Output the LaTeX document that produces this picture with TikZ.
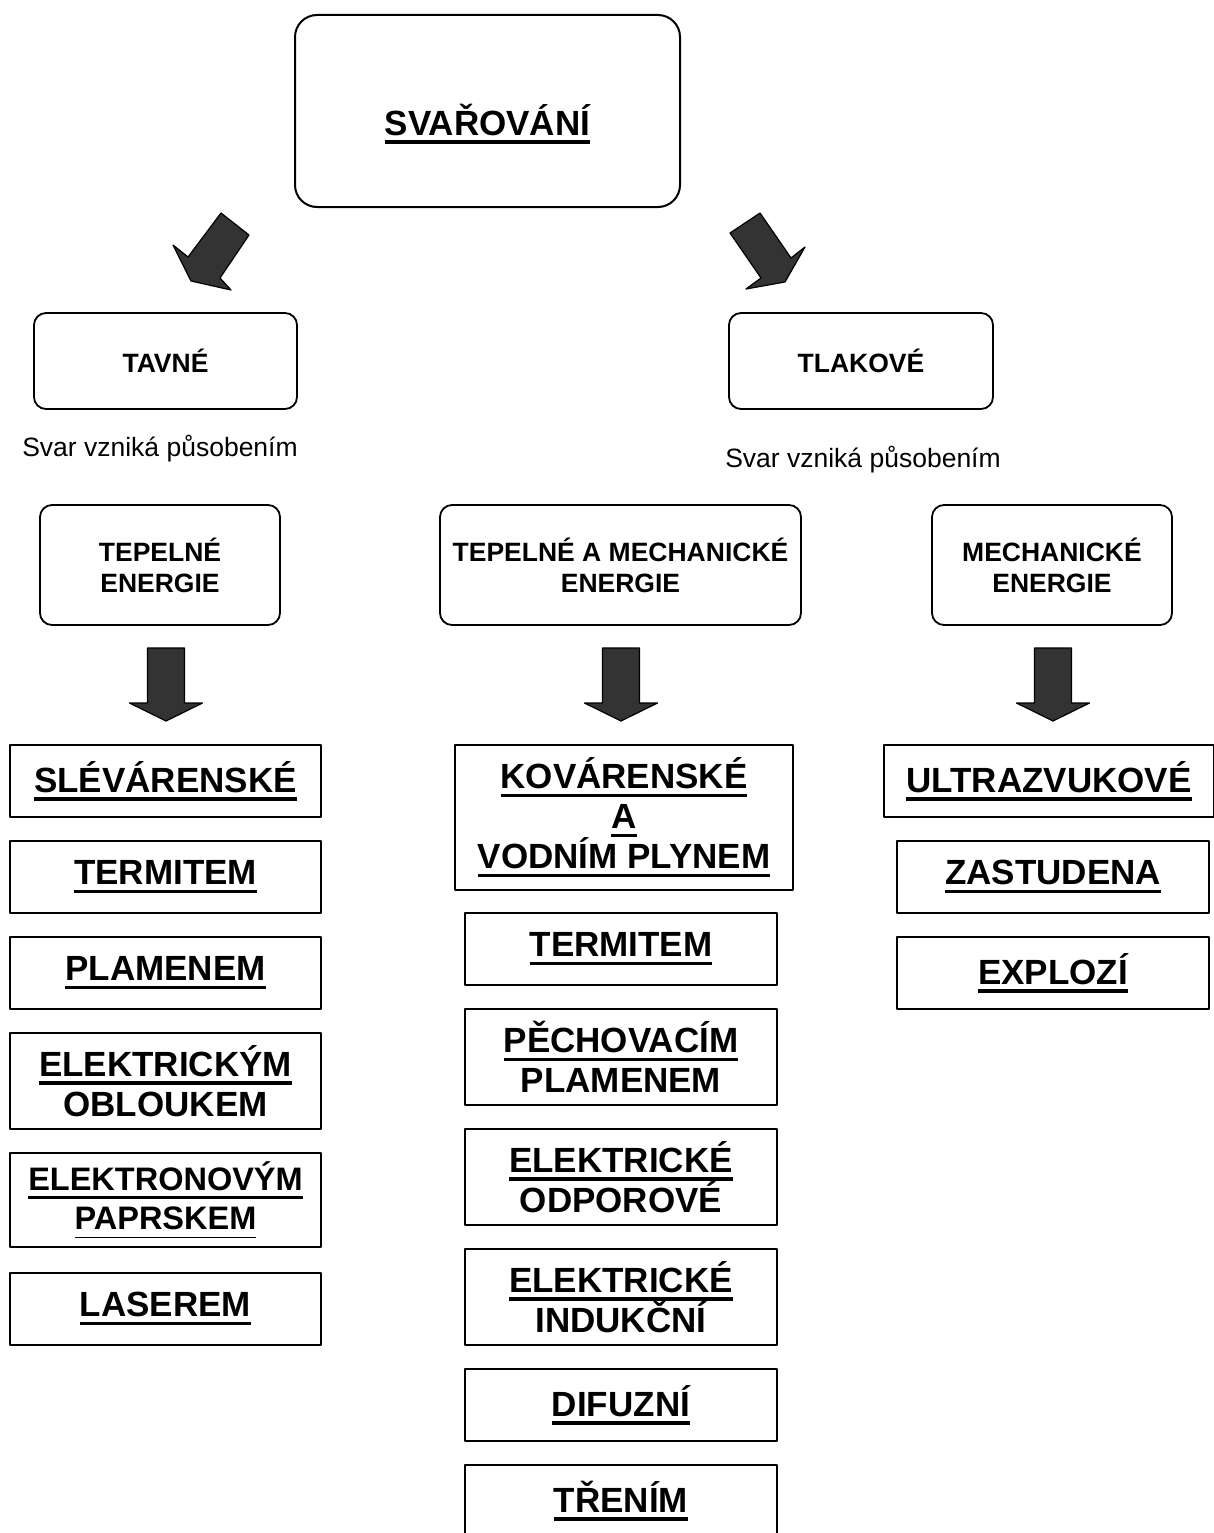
\documentclass[tikz,border=0pt]{standalone}
\usepackage{fontspec}
\setmainfont{Liberation Sans}
\newsavebox{\ulbox}
\newcommand{\uln}[2][3.5pt]{\sbox{\ulbox}{#2}\rlap{\rule[-8.5pt]{\wd\ulbox}{#1}}\usebox{\ulbox}}
\tikzset{
	rbox/.style={draw, line width=1.8pt, rounded corners=12pt, align=center, inner sep=0pt, font=\bfseries\fontsize{26.5}{31}\selectfont},
	sbox/.style={draw, line width=1.8pt, align=center, inner sep=0pt, font=\bfseries\fontsize{35}{40}\selectfont},
	bigarrow/.style={draw, line width=1.2pt, fill=black!80, line join=round},
	note/.style={font=\fontsize{26.5}{30}\selectfont}
}
\begin{document}
\begin{tikzpicture}[x=1pt, y=-1pt, line join=round]
		\useasboundingbox (0,0) rectangle (1213,1533);
		% hlavni pojem
		\node[rbox, rounded corners=22pt, line width=2pt, minimum width=385pt, minimum height=192pt] (svar) at (487.5,111) {};
		\node[font=\bfseries\fontsize{35}{40}\selectfont] (svarT) at (487.5,124) {\uln{SVAŘOVÁNÍ}};
		\draw[bigarrow] (221,213)--(249,235)--(220,278)--(231,290)--(191,281)--(173,245)--(188,257)--cycle;
		\draw[bigarrow] (730,233)--(760,213)--(791,258)--(805,247)--(785,282)--(746,289)--(761,278)--cycle;
		% druhy
		\node[rbox, minimum width=263pt, minimum height=96pt] (tavne) at (165.5,361) {TAVNÉ};
		\node[rbox, minimum width=264pt, minimum height=96pt] (tlak) at (861,361) {TLAKOVÉ};
		\node[note] (pus1) at (160,449) {Svar vzniká působením};
		\node[note] (pus2) at (863,460) {Svar vzniká působením};
		\node[rbox, minimum width=240pt, minimum height=120pt] (tep) at (160,565) {TEPELNÉ\\ENERGIE};
		\node[rbox, minimum width=361pt, minimum height=120pt] (tepmech) at (620.5,565) {TEPELNÉ A MECHANICKÉ\\ENERGIE};
		\node[rbox, minimum width=240pt, minimum height=120pt] (mech) at (1052,565) {MECHANICKÉ\\ENERGIE};
		\foreach \cx in {166,621,1053}
			\draw[bigarrow] (\cx-18.5,648)--(\cx+18.5,648)--(\cx+18.5,703)--(\cx+36.5,703)--(\cx,721)--(\cx-36.5,703)--(\cx-18.5,703)--cycle;
		% tepelne
		\node[sbox, minimum width=311pt, minimum height=72pt] (slev) at (165.5,781) {\uln{SLÉVÁRENSKÉ}};
		\node[sbox, minimum width=311pt, minimum height=72pt] (term1) at (165.5,877) {\uln{TERMITEM}};
		\node[sbox, minimum width=311pt, minimum height=72pt] (plam) at (165.5,973) {\uln{PLAMENEM}};
		\node[sbox, minimum width=311pt, minimum height=96pt] (oblouk) at (165.5,1081) {\uln{ELEKTRICKÝM}\\OBLOUKEM};
		\node[sbox, font=\bfseries\fontsize{32.5}{39}\selectfont, minimum width=311pt, minimum height=94pt] (paprsek) at (165.5,1200) {\uln{ELEKTRONOVÝM}\\\uln[1.2pt]{PAPRSKEM}};
		\node[sbox, minimum width=311pt, minimum height=72pt] (laser) at (165.5,1309) {\uln{LASEREM}};
		% tepelne a mechanicke
		\node[sbox, minimum width=338pt, minimum height=145pt] (kov) at (624,817.5) {\uln{KOVÁRENSKÉ}\\\uln{A}\\\uln{VODNÍM PLYNEM}};
		\node[sbox, minimum width=312pt, minimum height=72pt] (term2) at (621,949) {\uln{TERMITEM}};
		\node[sbox, minimum width=312pt, minimum height=96pt] (pech) at (621,1057) {\uln{PĚCHOVACÍM}\\PLAMENEM};
		\node[sbox, minimum width=312pt, minimum height=96pt] (odpor) at (621,1177) {\uln{ELEKTRICKÉ}\\ODPOROVÉ};
		\node[sbox, minimum width=312pt, minimum height=96pt] (induk) at (621,1297) {\uln{ELEKTRICKÉ}\\INDUKČNÍ};
		\node[sbox, minimum width=312pt, minimum height=72pt] (difuz) at (621,1405) {\uln{DIFUZNÍ}};
		\node[sbox, minimum width=312pt, minimum height=72pt] (treni) at (621,1501) {\uln{TŘENÍM}};
		% mechanicke
		\node[sbox, minimum width=330pt, minimum height=72pt] (ultra) at (1049,781) {\uln{ULTRAZVUKOVÉ}};
		\node[sbox, minimum width=312pt, minimum height=72pt] (zast) at (1053,877) {\uln{ZASTUDENA}};
		\node[sbox, minimum width=312pt, minimum height=72pt] (expl) at (1053,973) {\uln{EXPLOZÍ}};
\end{tikzpicture}
\end{document}
